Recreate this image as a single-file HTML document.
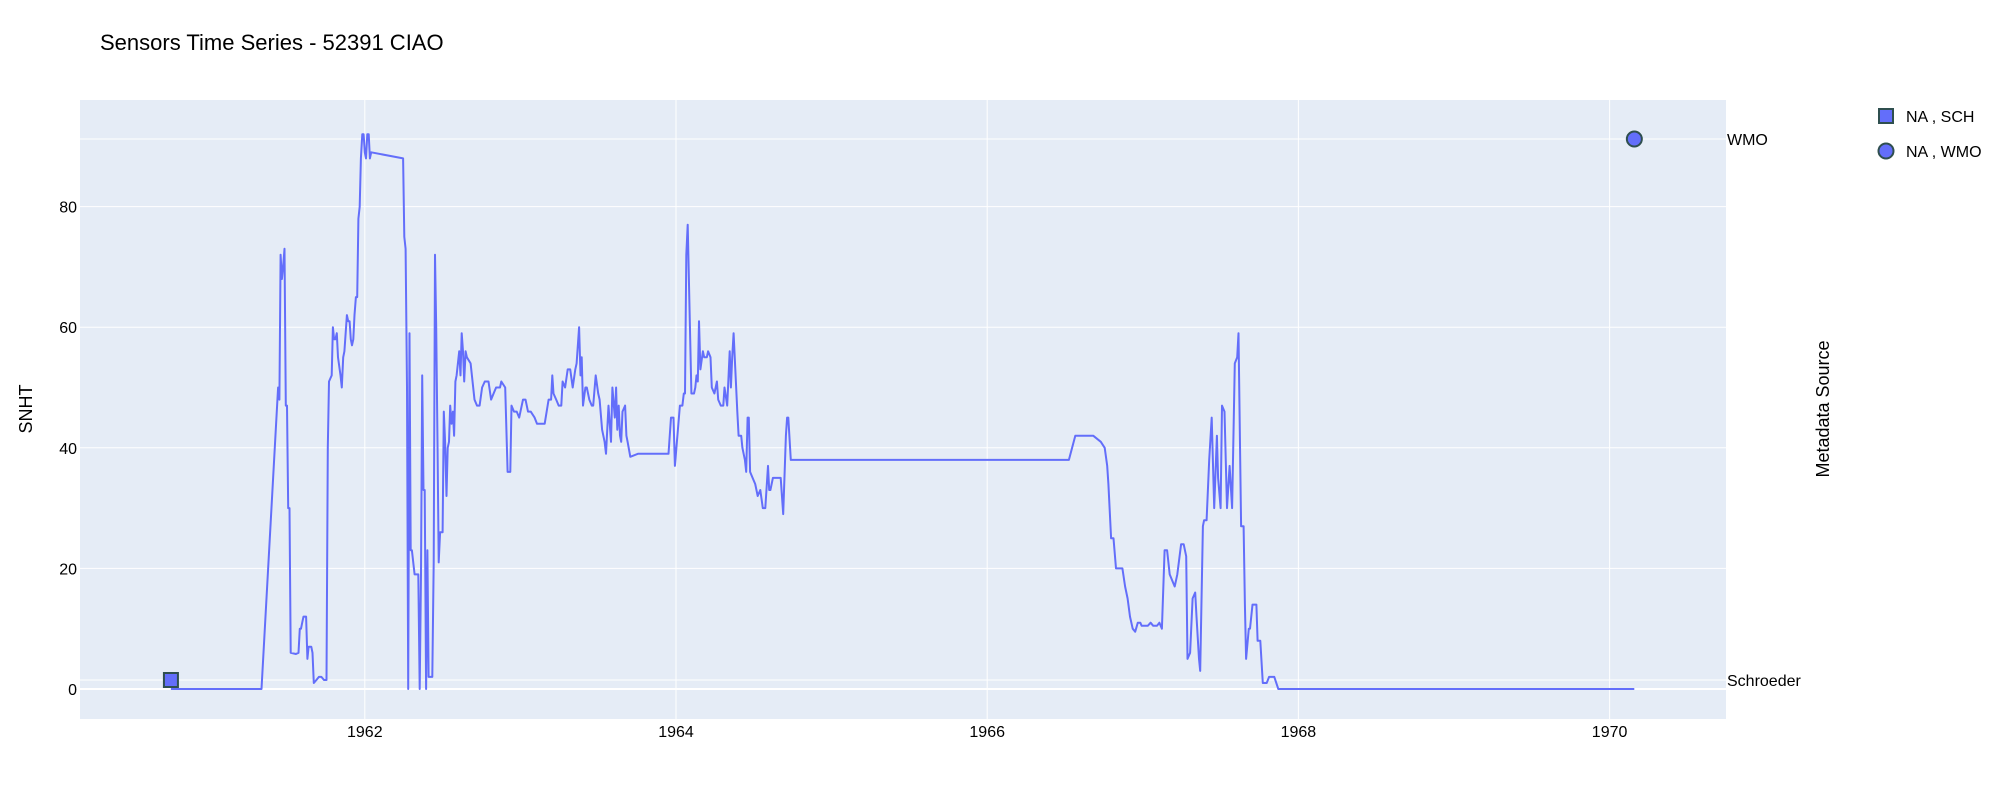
<!DOCTYPE html>
<html><head><meta charset="utf-8"><style>
body{margin:0;background:#fff;}
svg{display:block;font-family:"Liberation Sans",Arial,sans-serif;}
</style></head><body>
<svg id="chart" width="2000" height="800" viewBox="0 0 2000 800">
<text x="100" y="50" font-size="22" fill="#000">Sensors Time Series - 52391 CIAO</text>
<rect x="80" y="100" width="1646" height="619" fill="#e5ecf6"/>
<g id="grid"></g>
<g id="series"></g>
<text transform="translate(32,409) rotate(-90)" text-anchor="middle" font-size="18" fill="#000">SNHT</text>
<text transform="translate(1829,409) rotate(-90)" text-anchor="middle" font-size="18" fill="#000">Metadata Source</text>
<g>
<rect x="1879" y="109" width="14" height="14" fill="#636efa" stroke="#2f4f4f" stroke-width="2"/>
<text x="1906" y="122" font-size="16">NA , SCH</text>
<circle cx="1886" cy="151" r="7.5" fill="#636efa" stroke="#2f4f4f" stroke-width="2"/>
<text x="1906" y="157" font-size="16">NA , WMO</text>
</g>
</svg>
<script>
const years=[1960.754,1961.336,1961.443,1961.451,1961.459,1961.467,1961.475,1961.484,1961.492,1961.500,1961.508,1961.516,1961.524,1961.557,1961.574,1961.582,1961.590,1961.598,1961.606,1961.623,1961.631,1961.639,1961.656,1961.664,1961.672,1961.689,1961.705,1961.721,1961.738,1961.754,
1961.762,1961.770,1961.787,1961.795,1961.803,1961.811,1961.820,1961.828,1961.844,1961.852,1961.861,1961.869,1961.885,1961.893,1961.902,1961.910,1961.918,1961.926,1961.934,1961.943,1961.951,1961.959,1961.967,1961.975,1961.984,1961.992,1962.000,1962.008,1962.016,1962.025,1962.033,1962.041,
1962.246,1962.254,1962.262,1962.271,1962.279,1962.287,1962.295,1962.303,1962.320,1962.344,1962.353,1962.361,1962.369,1962.377,1962.385,1962.394,1962.402,1962.410,1962.434,1962.443,1962.451,1962.459,1962.467,1962.475,1962.484,1962.500,1962.508,1962.516,1962.525,1962.533,1962.541,1962.549,1962.557,1962.566,1962.574,1962.582,1962.590,1962.607,1962.615,1962.623,1962.631,1962.639,1962.648,1962.656,1962.680,1962.705,1962.721,1962.738,1962.754,1962.771,1962.795,1962.812,1962.828,1962.844,1962.869,1962.877,1962.902,1962.918,1962.935,1962.943,1962.959,1962.976,1962.992,
1963.017,1963.033,1963.049,1963.066,1963.091,1963.107,1963.156,1963.181,1963.197,1963.205,1963.213,1963.230,1963.246,1963.263,1963.271,1963.287,1963.304,1963.320,1963.336,1963.353,1963.361,1963.377,1963.386,1963.394,1963.402,1963.418,1963.427,1963.443,1963.459,1963.468,1963.484,1963.500,1963.509,1963.525,1963.541,1963.550,1963.566,1963.582,1963.591,1963.607,1963.615,1963.623,1963.632,1963.640,1963.648,1963.656,1963.673,1963.681,1963.689,1963.706,1963.755,1963.952,1963.968,1963.984,1963.993,
1964.009,1964.025,1964.041,1964.050,1964.058,1964.066,1964.075,1964.091,1964.099,1964.116,1964.124,1964.132,1964.140,1964.148,1964.157,1964.173,1964.181,1964.198,1964.206,1964.222,1964.230,1964.247,1964.263,1964.271,1964.288,1964.304,1964.312,1964.329,1964.345,1964.353,1964.361,1964.370,1964.394,1964.402,1964.419,1964.427,1964.443,1964.451,1964.460,1964.468,1964.476,1964.492,1964.509,1964.525,1964.542,1964.558,1964.574,1964.591,1964.599,1964.607,1964.623,1964.673,1964.689,1964.706,1964.714,1964.722,1964.738,
1966.525,1966.566,1966.681,1966.730,1966.755,1966.771,1966.779,1966.796,1966.812,1966.828,1966.869,1966.886,1966.902,1966.918,1966.935,1966.951,1966.968,1966.984,1966.992,1967.033,1967.050,1967.066,1967.091,1967.107,1967.123,1967.140,1967.156,1967.173,1967.189,1967.205,1967.222,1967.246,1967.263,1967.279,1967.287,1967.304,1967.320,1967.337,1967.345,1967.361,1967.369,1967.386,1967.394,1967.410,1967.427,1967.443,1967.459,1967.476,1967.484,1967.500,1967.509,1967.525,1967.541,1967.558,1967.574,1967.591,1967.607,1967.615,1967.632,1967.648,1967.656,1967.664,1967.681,1967.689,1967.705,1967.730,1967.738,1967.755,1967.771,1967.796,1967.812,1967.845,1967.871,1970.159];
const snht=[0,0,50,48,72,68,70,73,47,47,30,30,6,5.8,6,10,10,11,12,12,5,7,7,6,1,1.5,2,2,1.5,1.5,
40,51,52,60,58,58,59,55,52,50,55,56,62,61,61,58,57,58,62,65,65,78,80,88,92,92,89,88,92,92,88,89,
88,75,73,50,0,59,23,23,19,19,0,19,52,33,33,0,23,2,2,21,72,60,41,21,26,26,46,41,32,40,41,47,44,46,42,51,52,56,52,59,56,51,56,55,54,48,47,47,50,51,51,48,49,50,50,51,50,36,36,47,46,46,45,
48,48,46,46,45,44,44,48,48,52,49,48,47,47,51,50,53,53,50,53,54,60,52,55,47,50,50,48,47,47,52,49,48,43,41,39,47,41,50,45,50,43,47,42,41,46,47,42,41,38.5,39,39,45,45,37,
42,47,47,49,49,72,77,58,49,49,50,52,51,61,53,56,55,55,56,55,50,49,51,48,47,47,50,47,56,50,55,59,46,42,42,40,38,36,45,45,36,35,34,32,33,30,30,37,33,33,35,35,29,42,45,45,38,
38,42,42,41,40,37,34,25,25,20,20,17,15,12,10,9.5,11,11,10.5,10.5,11,10.5,10.5,11,10,23,23,19,18,17,19,24,24,22,5,6,15,16,12,5,3,27,28,28,38,45,30,42,35,30,47,46,30,37,30,54,55,59,27,27,14,5,10,10,14,14,8,8,1,1,2,2,0,0];
const yTicks=[0,20,40,60,80];
const xTicks=[1962,1964,1966,1968,1970];
const sources=["Schroeder","WMO"];
const schYears=[1960.754];
const wmoYears=[1970.159];

const NS="http://www.w3.org/2000/svg";
const L=80,R=1726,T=100,B=719;
const xs=y=>364.8+(y-1962)*155.6;
const ys=v=>689-v*6.03;
const ys2=c=>c==="Schroeder"?680:139;
function mk(tag,attrs,parent){const e=document.createElementNS(NS,tag);for(const k in attrs)e.setAttribute(k,attrs[k]);parent.appendChild(e);return e;}
const grid=document.getElementById('grid');
const ser=document.getElementById('series');
const svg=document.getElementById('chart');
yTicks.forEach(t=>{
  const l=mk('line',{x1:L,x2:R,y1:ys(t),y2:ys(t),stroke:'#fff','stroke-width':t===0?2:1},grid);
  
  
  const tx=mk('text',{x:L-3,y:ys(t)+6,'text-anchor':'end','font-size':16},svg);
  tx.textContent=t;
  
  
});
sources.forEach(s=>{
  const l=mk('line',{x1:L,x2:R,y1:ys2(s),y2:ys2(s),stroke:'#fff','stroke-width':1},grid);
  
  
  const tx=mk('text',{x:R+1,y:ys2(s)+6,'font-size':16},svg);
  tx.textContent=s;
  
  
});
xTicks.forEach(t=>{
  const l=mk('line',{x1:xs(t),x2:xs(t),y1:T,y2:B,stroke:'#fff','stroke-width':1},grid);
  
  
  const tx=mk('text',{x:xs(t),y:B+18,'text-anchor':'middle','font-size':16},svg);
  tx.textContent=t;
  
  
});
const pts=years.map((y,i)=>xs(y).toFixed(1)+','+ys(snht[i]).toFixed(1)).join(' ');
const pl=mk('polyline',{points:pts,fill:'none',stroke:'#636efa','stroke-width':2,'stroke-linejoin':'round'},ser);


schYears.forEach(y=>{
  const r=mk('rect',{x:xs(y)-7,y:ys2('Schroeder')-7,width:14,height:14,fill:'#636efa',stroke:'#2f4f4f','stroke-width':2},ser);
  
  
});
wmoYears.forEach(y=>{
  const c=mk('circle',{cx:xs(y),cy:ys2('WMO'),r:7.5,fill:'#636efa',stroke:'#2f4f4f','stroke-width':2},ser);
  
  
});
</script>
</body></html>
